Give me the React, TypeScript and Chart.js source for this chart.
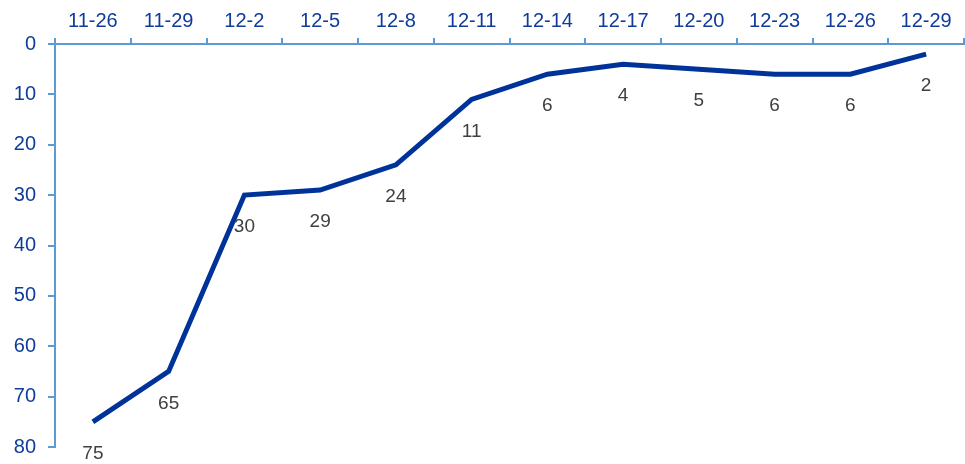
import React, { useEffect, useRef } from "react";
import { Chart, registerables } from "chart.js";

Chart.register(...registerables);

const categories = ["11-26", "11-29", "12-2", "12-5", "12-8", "12-11", "12-14", "12-17", "12-20", "12-23", "12-26", "12-29"];
const values = [75, 65, 30, 29, 24, 11, 6, 4, 5, 6, 6, 2];

const AXIS_COLOR = "#5B9BD5";
const TICK_TEXT = "#0F3C9B";
const LINE_COLOR = "#00339A";
const LABEL_TEXT = "#404040";
const FONT = "'Liberation Sans', Arial, sans-serif";

// Writes each point's value a little below the point
const valueLabels = {
  id: "valueLabels",
  afterDatasetsDraw(chart: any) {
    const { ctx } = chart;
    const meta = chart.getDatasetMeta(0);
    ctx.save();
    ctx.font = `19px ${FONT}`;
    ctx.fillStyle = LABEL_TEXT;
    ctx.textAlign = "center";
    ctx.textBaseline = "middle";
    meta.data.forEach((pt: any, i: number) => {
      ctx.fillText(String(values[i]), pt.x, pt.y + 32);
    });
    ctx.restore();
  },
};

export default function App() {
  const canvasRef = useRef<HTMLCanvasElement | null>(null);

  useEffect(() => {
    document.body.style.margin = "0";
    const chart = new Chart(canvasRef.current!, {
      type: "line",
      data: {
        labels: categories,
        datasets: [
          {
            data: values,
            borderColor: LINE_COLOR,
            borderWidth: 5,
            pointRadius: 0,
            tension: 0,
            fill: false,
          },
        ],
      },
      options: {
        responsive: false,
        animation: false,
        layout: { padding: { top: 0, right: 1, bottom: 17, left: 0 } },
        plugins: { legend: { display: false }, tooltip: { enabled: false } },
        scales: {
          x: {
            position: "top",
            offset: true,
            grid: {
              offset: true,
              drawOnChartArea: false,
              drawTicks: true,
              tickLength: 6,
              color: AXIS_COLOR,
              lineWidth: 2,
            },
            border: { color: AXIS_COLOR, width: 2 },
            ticks: {
              color: TICK_TEXT,
              font: { family: FONT, size: 20 },
              padding: 5,
              maxRotation: 0,
              autoSkip: false,
            },
            afterFit(scale: any) {
              scale.height = 44;
              scale.paddingLeft = 0;
              scale.paddingRight = 0;
            },
          },
          y: {
            reverse: true,
            min: 0,
            max: 80,
            grid: {
              drawOnChartArea: false,
              drawTicks: true,
              tickLength: 7,
              color: AXIS_COLOR,
              lineWidth: 2,
            },
            border: { color: AXIS_COLOR, width: 2 },
            ticks: {
              stepSize: 10,
              color: TICK_TEXT,
              font: { family: FONT, size: 20 },
              padding: 12,
            },
            afterFit(scale: any) {
              scale.width = 55;
              scale.paddingTop = 0;
              scale.paddingBottom = 0;
            },
          },
        },
      },
      plugins: [valueLabels],
    });
    return () => chart.destroy();
  }, []);

  return <canvas ref={canvasRef} width={965} height={464} style={{ display: "block" }} />;
}
